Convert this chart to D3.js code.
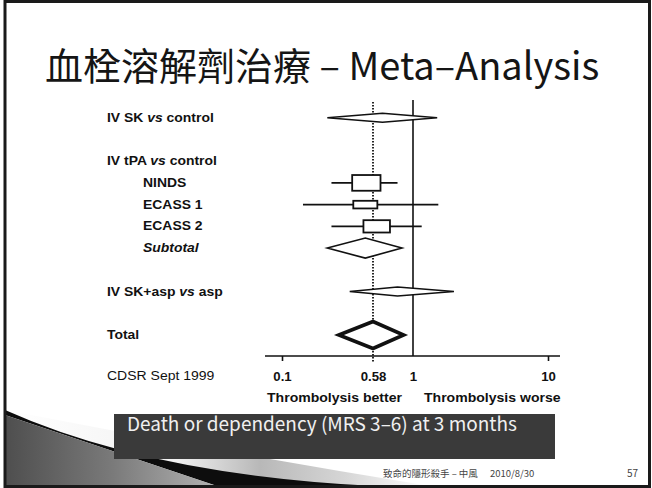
<!DOCTYPE html>
<html><head><meta charset="utf-8">
<script src="https://cdn.jsdelivr.net/npm/d3@7"></script>
<style>body{margin:0;background:#fff}</style>
</head><body><svg id="c" width="652" height="488"></svg>
<script>
// ---------- data ----------
const titleText = "血栓溶解劑治療 – Meta–Analysis";
const rows     = ["IV SK vs control", "", "IV tPA vs control", "NINDS", "ECASS 1", "ECASS 2", "Subtotal", "", "IV SK+asp vs asp", "", "Total"];
const rowType  = ["summary", "blank", "header", "trial", "trial", "trial", "subtotal", "blank", "summary", "blank", "total"];
const oddsRatio = [0.66, null, null, 0.51, 0.50, 0.61, 0.50, null, 0.81, null, 0.58];
const ciLower   = [0.24, null, null, 0.26, 0.15, 0.26, 0.24, null, 0.37, null, 0.30];
const ciUpper   = [1.51, null, null, 0.81, 1.54, 1.16, 0.86, null, 2.01, null, 0.88];
const weight    = [null, null, null, 37, 18, 29, null, null, null, null, null];
const pooledOR = 0.58;
const axisTicks = [0.1, 0.58, 1, 10];
const axisTickLabels = ["0.1", "0.58", "1", "10"];
const directionLabels = ["Thrombolysis better", "Thrombolysis worse"];
const sourceLabel = "CDSR Sept 1999";
const captionText = "Death or dependency (MRS 3–6) at 3 months";
const footerText = "致命的隱形殺手 – 中風";
const footerDate = "2010/8/30";
const pageNumber = "57";

// ---------- setup ----------
const svg = d3.select("#c");
const W = 652, H = 488;
svg.append("rect").attr("width", W).attr("height", H).attr("fill", "#fff");

const defs = svg.append("defs");
const gLight = defs.append("linearGradient").attr("id", "gLight").attr("gradientUnits", "userSpaceOnUse")
  .attr("x1", 5).attr("x2", 430).attr("y1", 0).attr("y2", 0);
[[0, "#ffffff"], [0.4, "#f2f2f2"], [0.6, "#b8b8b8"], [0.8, "#d6d6d6"], [1, "#ffffff"]]
  .forEach(([o, c]) => gLight.append("stop").attr("offset", o).attr("stop-color", c));
const gDark = defs.append("linearGradient").attr("id", "gDark").attr("gradientUnits", "userSpaceOnUse")
  .attr("x1", 5).attr("x2", 220).attr("y1", 0).attr("y2", 0);
[[0, "#4e4e4e"], [0.5, "#7a7a7a"], [1, "#b4b4b4"]]
  .forEach(([o, c]) => gDark.append("stop").attr("offset", o).attr("stop-color", c));

// ---------- scales ----------
const x = d3.scaleLog().domain(axisTicks).range([282, 373, 413, 548]);
const y = d3.scaleLinear().domain([0, rows.length - 1]).range([117.7, 335]);
const boxH = d3.scaleLinear().domain([0, 40]).range([0, 17]);
const boxW = d3.scaleLinear().domain([0, 40]).range([20, 29]);

const plotFont = "'Liberation Sans', Arial, sans-serif";
const cjkFont = "'Noto Sans CJK TC', 'Noto Sans', sans-serif";

// ---------- title ----------
svg.append("text").attr("x", 45).attr("y", 80)
  .attr("font-family", cjkFont).attr("font-size", 38).attr("fill", "#151515")
  .text(titleText);

// ---------- forest plot ----------
const plot = svg.append("g");
const stretchTexts = [];

// reference lines
plot.append("line").attr("x1", x(1)).attr("x2", x(1)).attr("y1", 100).attr("y2", 356)
  .attr("stroke", "#111").attr("stroke-width", 1.6);
plot.append("line").attr("x1", x(pooledOR)).attr("x2", x(pooledOR)).attr("y1", 102).attr("y2", 362)
  .attr("stroke", "#111").attr("stroke-width", 1.8).attr("stroke-dasharray", "1.6,1.4");

// labels
rows.forEach((lab, i) => {
  if (!lab) return;
  const t = rowType[i];
  const tx = (t === "trial" || t === "subtotal") ? 143 : 107;
  const el = plot.append("text").attr("x", tx).attr("y", y(i) + 4)
    .attr("font-family", plotFont).attr("font-size", 12).attr("font-weight", "bold").attr("fill", "#111")
    .attr("font-style", t === "subtotal" ? "italic" : "normal");
  const parts = lab.split(" vs ");
  if (parts.length === 2) {
    el.append("tspan").text(parts[0] + " ");
    el.append("tspan").attr("font-style", "italic").text("vs");
    el.append("tspan").text(" " + parts[1]);
  } else el.text(lab);
  stretchTexts.push([el, 1.16]);
});

// whiskers + boxes
const idx = d3.range(rows.length);
idx.filter(i => rowType[i] === "trial").forEach(i => {
  const cy = y(i);
  plot.append("line").attr("x1", x(ciLower[i])).attr("x2", x(ciUpper[i])).attr("y1", cy).attr("y2", cy)
    .attr("stroke", "#111").attr("stroke-width", 1.6);
  const w = boxW(weight[i]), h = boxH(weight[i]);
  plot.append("rect").attr("x", x(oddsRatio[i]) - w / 2).attr("y", cy - h / 2)
    .attr("width", w).attr("height", h).attr("fill", "#fff").attr("stroke", "#111").attr("stroke-width", 1.8);
});

// diamonds
const diamondStyle = { summary: { hh: 4.5, sw: 1.6 }, subtotal: { hh: 10, sw: 1.6 }, total: { hh: 13.5, sw: 3.6 } };
idx.filter(i => diamondStyle[rowType[i]]).forEach(i => {
  const s = diamondStyle[rowType[i]], cy = y(i);
  const pts = [[x(ciLower[i]), cy], [x(oddsRatio[i]), cy - s.hh], [x(ciUpper[i]), cy], [x(oddsRatio[i]), cy + s.hh]];
  plot.append("path").attr("d", d3.line()(pts) + "Z").attr("fill", "#fff")
    .attr("stroke", "#111").attr("stroke-width", s.sw).attr("stroke-linejoin", "miter");
});

// axis
const axisY = 356;
const axisG = plot.append("g").attr("transform", `translate(0,${axisY})`)
  .call(d3.axisBottom(x).tickValues(axisTicks).tickFormat((d, i) => axisTickLabels[i])
    .tickSize(5).tickSizeOuter(0).tickPadding(11));
axisG.select(".domain").attr("d", `M${x(0.1) - 17},0H${x(10) + 12}`).attr("stroke", "#111").attr("stroke-width", 1.6);
axisG.selectAll(".tick line").attr("stroke", "#111").attr("stroke-width", 1.6)
  .attr("stroke-opacity", d => d === 1 || d === pooledOR ? 0 : 1);
axisG.selectAll(".tick text").attr("font-family", plotFont).attr("font-size", 12).attr("font-weight", "bold").attr("fill", "#111")
  .each(function () { stretchTexts.push([d3.select(this), 1.1]); });

plot.append("text").attr("x", x(1) - 11).attr("y", 401.5).attr("text-anchor", "end")
  .attr("font-family", plotFont).attr("font-size", 12).attr("font-weight", "bold").attr("fill", "#111")
  .text(directionLabels[0]).call(s => stretchTexts.push([s, 1.17]));
plot.append("text").attr("x", x(1) + 11).attr("y", 401.5).attr("text-anchor", "start")
  .attr("font-family", plotFont).attr("font-size", 12).attr("font-weight", "bold").attr("fill", "#111")
  .text(directionLabels[1]).call(s => stretchTexts.push([s, 1.17]));
plot.append("text").attr("x", 107).attr("y", 380)
  .attr("font-family", plotFont).attr("font-size", 12.5).attr("fill", "#111")
  .text(sourceLabel).call(s => stretchTexts.push([s, 1.12]));

stretchTexts.forEach(([s, k]) => {
  const L = s.node().getComputedTextLength();
  s.attr("textLength", L * k).attr("lengthAdjust", "spacingAndGlyphs");
});

// ---------- decorative swoosh ----------
svg.append("path").attr("d", "M5,410 Q220,452 430,486 L5,486 Z").attr("fill", "url(#gLight)");
svg.append("path").attr("d", "M5,410 Q150,475 375,486 L217,486 L5,415 Z").attr("fill", "#0d0d0d");
svg.append("path").attr("d", "M5,415 L217,486 L5,486 Z").attr("fill", "url(#gDark)");

// ---------- caption box ----------
svg.append("rect").attr("x", 114).attr("y", 414).attr("width", 441).attr("height", 45).attr("fill", "#3a3a3a");
svg.append("text").attr("x", 127).attr("y", 431).attr("font-family", cjkFont).attr("font-size", 19)
  .attr("fill", "#f0f0f0").text(captionText);

// ---------- footer ----------
svg.append("text").attr("x", 383).attr("y", 476.5).attr("font-family", cjkFont).attr("font-size", 9.5)
  .attr("fill", "#444").text(footerText);
svg.append("text").attr("x", 490).attr("y", 476.5).attr("font-family", cjkFont).attr("font-size", 9.5)
  .attr("fill", "#444").text(footerDate);
svg.append("text").attr("x", 627).attr("y", 476.5).attr("font-family", cjkFont).attr("font-size", 10)
  .attr("fill", "#444").text(pageNumber);

// ---------- frame ----------
svg.append("rect").attr("x", 5).attr("y", 1.5).attr("width", 644.5).attr("height", 485)
  .attr("fill", "none").attr("stroke", "#1a1a1a").attr("stroke-width", 3);
</script></body></html>
